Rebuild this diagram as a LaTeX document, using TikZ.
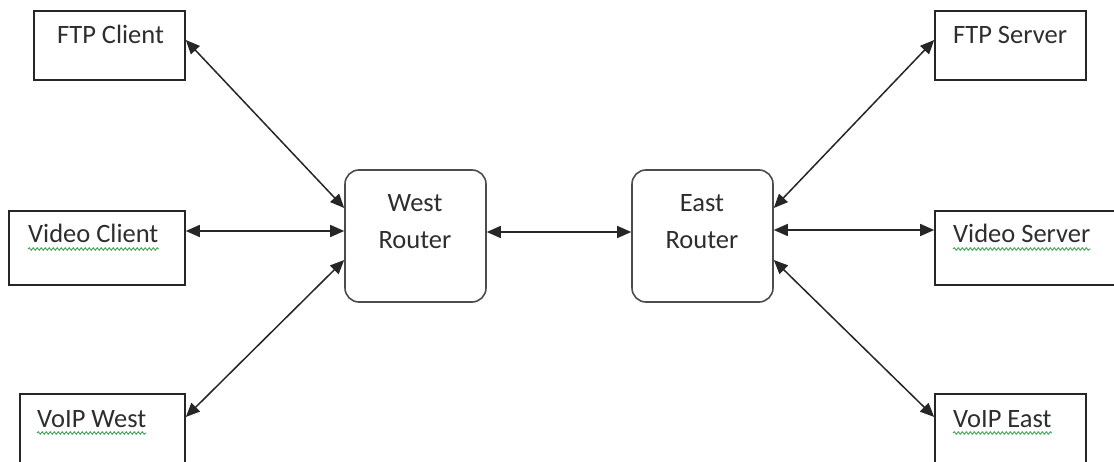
\documentclass[tikz,border=0pt]{standalone}
\usepackage{fontspec}
\setmainfont{Carlito}
\usetikzlibrary{arrows.meta,decorations.pathmorphing}
\definecolor{txt}{HTML}{2E2E2E}
\definecolor{squig}{HTML}{3FA35A}
\tikzset{
  box/.style={draw=black!85, line width=1.6pt, rectangle, inner sep=0pt, fill=white},
  router/.style={draw=black!70, line width=1.6pt, rectangle, rounded corners=14pt, inner sep=0pt, fill=white, minimum width=141pt, minimum height=132pt},
  lbl/.style={text=txt, font=\fontsize{26.5}{31}\selectfont, inner sep=0pt},
  conn/.style={{Triangle[length=14pt,width=12pt]}-{Triangle[length=14pt,width=12pt]}, line width=1.5pt, draw=black!85},
  squiggle/.style={draw=squig, line width=0.9pt, decorate, decoration={snake, segment length=4pt, amplitude=1.3pt}}
}
\begin{document}
\begin{tikzpicture}[x=1pt,y=-1pt]
\useasboundingbox (0,0) rectangle (1114,462);
\clip (0,0) rectangle (1114,462);
\fill[white] (0,0) rectangle (1114,462);
% boxes
\node[box, minimum width=151pt, minimum height=69pt] (fc) at (109.5,45.5) {};
\node[box, minimum width=176pt, minimum height=74pt] (vc) at (97,248) {};
\node[box, minimum width=165pt, minimum height=76pt] (vw) at (102.5,432) {};
\node[box, minimum width=151pt, minimum height=69pt] (fs) at (1010.5,45.5) {};
\node[box, minimum width=195pt, minimum height=74pt] (vs) at (1032.5,248) {};
\node[box, minimum width=151pt, minimum height=76pt] (ve) at (1010.5,432) {};
\node[router] (wr) at (415.5,236) {};
\node[router] (er) at (702.5,236) {};
% labels
\node[lbl, anchor=base west] (tfc) at (57,44) {FTP Client};
\node[lbl, anchor=base west] (tvc) at (28,243) {Video Client};
\node[lbl, anchor=base west] (tvw) at (37,427) {VoIP West};
\node[lbl, anchor=base west] (tfs) at (953,44) {FTP Server};
\node[lbl, anchor=base west] (tvs) at (953,243) {Video Server};
\node[lbl, anchor=base west] (tve) at (953,427) {VoIP East};
\node[lbl, anchor=base] (twr1) at (415,212) {West};
\node[lbl, anchor=base] (twr2) at (415,249) {Router};
\node[lbl, anchor=base] (ter1) at (702,212) {East};
\node[lbl, anchor=base] (ter2) at (702,249) {Router};
% spell-check squiggles
\draw[squiggle] ([yshift=-6pt]tvc.base west) -- ([yshift=-6pt]tvc.base east);
\draw[squiggle] ([yshift=-6pt]tvw.base west) -- ([yshift=-6pt]tvw.base east);
\draw[squiggle] ([yshift=-6pt]tvs.base west) -- ([yshift=-6pt]tvs.base east);
\draw[squiggle] ([yshift=-6pt]tve.base west) -- ([yshift=-6pt]tve.base east);
% connectors
\draw[conn] ([yshift=5.5pt]fc.east) -- ([yshift=28pt]wr.west);
\draw[conn] ([yshift=17pt]vc.east) -- ([yshift=5pt]wr.west);
\draw[conn] ([yshift=15pt]vw.east) -- ([yshift=-24pt]wr.west);
\draw[conn] ([yshift=4pt]wr.east) -- ([yshift=4pt]er.west);
\draw[conn] ([yshift=28pt]er.east) -- ([yshift=5.5pt]fs.west);
\draw[conn] ([yshift=6pt]er.east) -- ([yshift=18pt]vs.west);
\draw[conn] ([yshift=-24pt]er.east) -- ([yshift=15pt]ve.west);
\end{tikzpicture}
\end{document}
